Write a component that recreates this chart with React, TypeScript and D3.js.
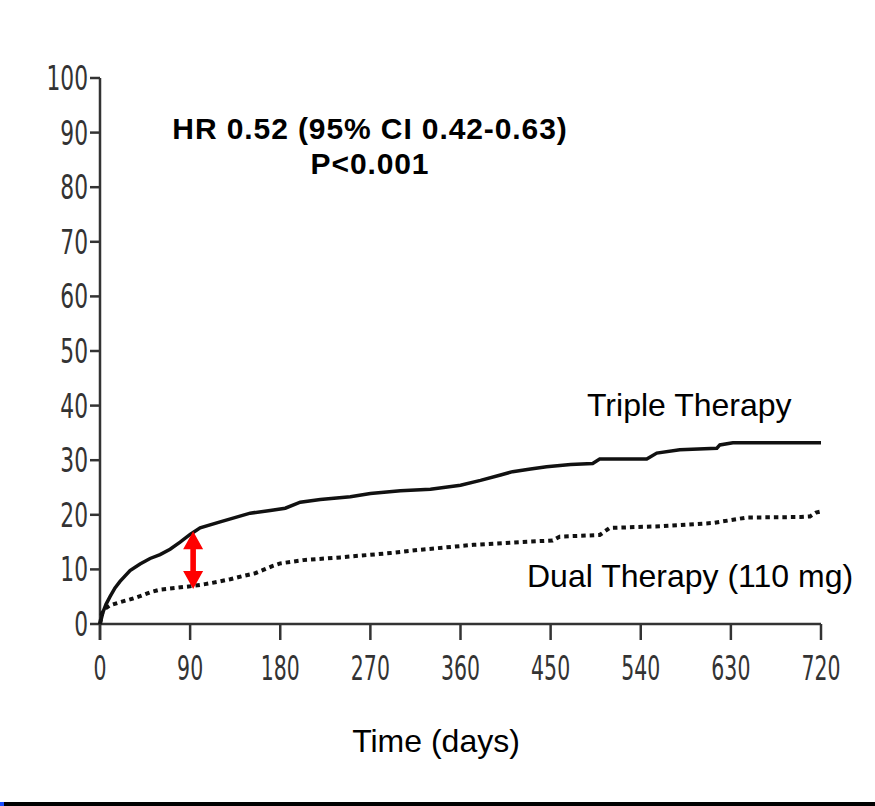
import React from "react";
import * as d3 from "d3";

const TIMES_TRIPLE = [0, 3, 6, 10, 15, 20, 30, 40, 50, 60, 70, 80, 90, 100, 120, 150, 170, 185, 200, 220, 250, 270, 300, 330, 360, 380, 400, 412, 430, 446, 470, 492, 499, 546, 556, 579, 616, 619, 632, 720];
const RISK_TRIPLE = [0, 2.2, 3.6, 5.0, 6.6, 7.8, 9.8, 11.0, 12.0, 12.7, 13.7, 15.0, 16.4, 17.6, 18.7, 20.3, 20.8, 21.2, 22.3, 22.8, 23.3, 23.9, 24.4, 24.7, 25.4, 26.3, 27.3, 27.9, 28.4, 28.8, 29.2, 29.4, 30.2, 30.2, 31.3, 31.9, 32.2, 32.8, 33.2, 33.2];

const TIMES_DUAL = [0, 2, 5, 10, 20, 30, 40, 50, 60, 75, 90, 105, 117, 130, 143, 155, 163, 172, 180, 203, 240, 290, 320, 373, 420, 452, 459, 499, 509, 560, 612, 646, 700, 709, 715, 720];
const RISK_DUAL = [0, 2.0, 2.8, 3.4, 4.0, 4.5, 5.1, 5.8, 6.3, 6.6, 6.9, 7.3, 7.7, 8.2, 8.8, 9.3, 9.9, 10.6, 11.1, 11.7, 12.2, 13.0, 13.6, 14.5, 15.0, 15.3, 16.0, 16.3, 17.6, 17.9, 18.5, 19.5, 19.6, 19.7, 20.4, 20.6];

const X_TICKS = [0, 90, 180, 270, 360, 450, 540, 630, 720];
const Y_TICKS = [0, 10, 20, 30, 40, 50, 60, 70, 80, 90, 100];

const ARROW_TIME = 93;
const ARROW_TOP = 17.0;
const ARROW_BOTTOM = 6.4;

const ANNOT_LINE1 = "HR 0.52 (95% CI 0.42-0.63)";
const ANNOT_LINE2 = "P<0.001";
const LABEL_TRIPLE = "Triple Therapy";
const LABEL_DUAL = "Dual Therapy (110 mg)";
const X_TITLE = "Time (days)";

export default function App() {
  const W = 875;
  const H = 806;
  const x = d3.scaleLinear().domain([0, 720]).range([100, 821]);
  const y = d3.scaleLinear().domain([0, 100]).range([624, 78]);

  const line = d3
    .line<[number, number]>()
    .x((d) => x(d[0]))
    .y((d) => y(d[1]))
    .curve(d3.curveLinear);

  const triple = TIMES_TRIPLE.map((t, i) => [t, RISK_TRIPLE[i]] as [number, number]);
  const dual = TIMES_DUAL.map((t, i) => [t, RISK_DUAL[i]] as [number, number]);

  const axisColor = "#333";
  const tickFont = "'DejaVu Sans', 'Open Sans', sans-serif";
  const textFont = "'Liberation Sans', Arial, sans-serif";

  // arrow
  const ax = x(ARROW_TIME);
  const ay1 = y(ARROW_TOP);
  const ay2 = y(ARROW_BOTTOM);
  const hw = 10;
  const hl = 18;
  const sw = 2.8;
  const arrowPath = [
    `M${ax},${ay1}`,
    `L${ax + hw},${ay1 + hl}`,
    `L${ax + sw},${ay1 + hl}`,
    `L${ax + sw},${ay2 - hl}`,
    `L${ax + hw},${ay2 - hl}`,
    `L${ax},${ay2}`,
    `L${ax - hw},${ay2 - hl}`,
    `L${ax - sw},${ay2 - hl}`,
    `L${ax - sw},${ay1 + hl}`,
    `L${ax - hw},${ay1 + hl}`,
    "Z",
  ].join(" ");

  return (
    <svg
      width={W}
      height={H}
      style={{ position: "absolute", left: 0, top: 0, background: "#fff" }}
    >
      <rect x={0} y={0} width={W} height={H} fill="#fff" />
      {/* axes */}
      <line x1={x(0)} x2={x(0)} y1={y(100)} y2={y(0) + 16} stroke={axisColor} strokeWidth={2.5} />
      <line x1={x(0)} x2={x(720)} y1={y(0)} y2={y(0)} stroke={axisColor} strokeWidth={2.5} />
      {Y_TICKS.map((t) => (
        <g key={"y" + t}>
          <line x1={x(0) - 10} x2={x(0)} y1={y(t)} y2={y(t)} stroke={axisColor} strokeWidth={2.5} />
          <text
            transform={`translate(${x(0) - 12},${y(t) + 12}) scale(0.66,1)`}
            textAnchor="end"
            fontFamily={tickFont}
            fontSize={33}
            fill="#333"
          >
            {t}
          </text>
        </g>
      ))}
      {X_TICKS.map((t) => (
        <g key={"x" + t}>
          <line x1={x(t)} x2={x(t)} y1={y(0)} y2={y(0) + 16} stroke={axisColor} strokeWidth={2.5} />
          <text
            transform={`translate(${x(t)},${y(0) + 56}) scale(0.62,1)`}
            textAnchor="middle"
            fontFamily={tickFont}
            fontSize={33}
            fill="#333"
          >
            {t}
          </text>
        </g>
      ))}

      {/* curves */}
      <path d={line(triple) || ""} fill="none" stroke="#111" strokeWidth={3.5} />
      <path d={line(dual) || ""} fill="none" stroke="#111" strokeWidth={4} strokeDasharray="4.5,4" />

      {/* arrow */}
      <path d={arrowPath} fill="#ff0000" />

      {/* annotations */}
      <text x={370} y={139} textAnchor="middle" fontFamily={textFont} fontWeight="bold" fontSize={30} letterSpacing={0.9} fill="#000">
        {ANNOT_LINE1}
      </text>
      <text x={370} y={174} textAnchor="middle" fontFamily={textFont} fontWeight="bold" fontSize={30} letterSpacing={0.9} fill="#000">
        {ANNOT_LINE2}
      </text>
      <text x={587} y={416} fontFamily={textFont} fontSize={32} fill="#000">
        {LABEL_TRIPLE}
      </text>
      <text x={527} y={587} fontFamily={textFont} fontSize={32} fill="#000">
        {LABEL_DUAL}
      </text>
      <text x={436} y={752} textAnchor="middle" fontFamily={textFont} fontSize={32} fill="#000">
        {X_TITLE}
      </text>

      {/* bottom border */}
      <rect x={0} y={802} width={W} height={4} fill="#000" />
      <rect x={0} y={802} width={4} height={4} fill="#1a4cff" />
    </svg>
  );
}
